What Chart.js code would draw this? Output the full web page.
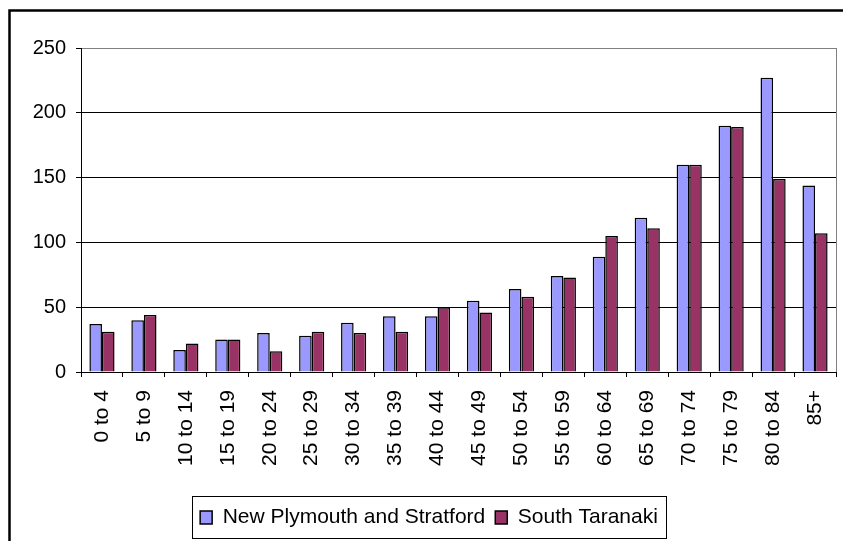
<!DOCTYPE html>
<html>
<head>
<meta charset="utf-8">
<script src="https://cdn.jsdelivr.net/npm/chart.js@4"></script>
<style>
    html, body { margin: 0; padding: 0; background: #fff; }
    #wrap { width: 843px; height: 541px; }
</style>
</head>
<body>
<div id="wrap"><canvas id="ageChart" width="843" height="541"></canvas></div>
<script>
// age groups along the bottom
const ageGroups = ['0 to 4', '5 to 9', '10 to 14', '15 to 19', '20 to 24', '25 to 29',
    '30 to 34', '35 to 39', '40 to 44', '45 to 49', '50 to 54', '55 to 59',
    '60 to 64', '65 to 69', '70 to 74', '75 to 79', '80 to 84', '85+'];

// values
const newPlymouth  = [37, 40, 17, 25, 30, 28, 38, 43, 43, 55, 64, 74, 89, 119, 160, 190, 227, 144];
const southTaranaki = [31, 44, 22, 25, 16, 31, 30, 31, 50, 46, 58, 73, 105, 111, 160, 189, 149, 107];

const yTicks = [0, 50, 100, 150, 200, 250];

const BLUE = '#9999FF';
const PLUM = '#993366';
const FAMILY = "'Liberation Sans', Arial, sans-serif";

// outer frame, grey plot edge and the box round the legend
const framePlugin = {
    id: 'frame',
    afterLayout(chart) {
        // nudge the legend a little right, like the original
        chart.legend.left += 22;
    },
    beforeDraw(chart) {
        const ctx = chart.ctx;
        ctx.save();
        ctx.fillStyle = '#fff';
        ctx.fillRect(0, 0, chart.width, chart.height);
        ctx.strokeStyle = '#000';
        ctx.lineWidth = 2.5;
        ctx.beginPath();
        ctx.moveTo(9.5, chart.height + 5);
        ctx.lineTo(9.5, 10.5);
        ctx.lineTo(chart.width + 5, 10.5);
        ctx.stroke();
        ctx.restore();
    },
    afterDraw(chart) {
        const ctx = chart.ctx;
        const a = chart.chartArea;
        ctx.save();
        ctx.strokeStyle = '#808080';
        ctx.lineWidth = 1;
        ctx.beginPath();
        ctx.moveTo(Math.round(a.right) + 0.5, a.top);
        ctx.lineTo(Math.round(a.right) + 0.5, a.bottom);
        ctx.stroke();

        const boxes = chart.legend.legendHitBoxes;
        if (boxes && boxes.length) {
            const first = boxes[0];
            const last = boxes[boxes.length - 1];
            const x0 = first.left - 8;
            const x1 = last.left + last.width + 8;
            const cy = first.top + first.height / 2;
            ctx.strokeStyle = '#000';
            ctx.strokeRect(Math.round(x0) + 0.5, Math.round(cy - 22) + 0.5, Math.round(x1 - x0), 42);
        }
        ctx.restore();
    }
};

new Chart(document.getElementById('ageChart').getContext('2d'), {
    type: 'bar',
    data: {
        labels: ageGroups,
        datasets: [{
            label: 'New Plymouth and Stratford',
            data: newPlymouth,
            backgroundColor: BLUE,
            borderColor: '#000',
            borderWidth: 1.5,
            borderSkipped: 'bottom',
        }, {
            label: 'South Taranaki',
            data: southTaranaki,
            backgroundColor: PLUM,
            borderColor: '#000',
            borderWidth: 1.5,
            borderSkipped: 'bottom',
        }]
    },
    options: {
        responsive: false,
        animation: false,
        datasets: { bar: { categoryPercentage: 0.6, barPercentage: 1 } },
        layout: { padding: { top: 48, right: 7, bottom: 3, left: 0 } },
        plugins: {
            legend: {
                position: 'bottom',
                labels: {
                    color: '#000',
                    font: { family: FAMILY, size: 21 },
                    boxWidth: 12,
                    boxHeight: 13,
                    padding: 10,
                }
            },
            tooltip: { enabled: false }
        },
        scales: {
            x: {
                grid: { drawOnChartArea: false, color: '#000', tickLength: 5, offset: true },
                border: { color: '#000', width: 1 },
                ticks: { color: '#000', font: { family: FAMILY, size: 21 }, minRotation: 90, maxRotation: 90, padding: 13, autoSkip: false },
                afterFit: s => {
                    s.height = 125;
                    s.paddingRight = 0;
                    s.paddingLeft = 0;
                }
            },
            y: {
                min: 0,
                max: 250,
                afterBuildTicks: s => { s.ticks = yTicks.map(v => ({ value: v })); },
                grid: {
                    color: c => (c.tick && c.tick.value === 250) ? '#808080' : '#000',
                    tickColor: '#000',
                    tickLength: 5
                },
                border: { color: '#000', width: 1 },
                ticks: { color: '#000', font: { family: FAMILY, size: 20 }, padding: 10 },
                afterFit: s => { s.width = 81; }
            }
        }
    },
    plugins: [framePlugin]
});
</script>
</body>
</html>
